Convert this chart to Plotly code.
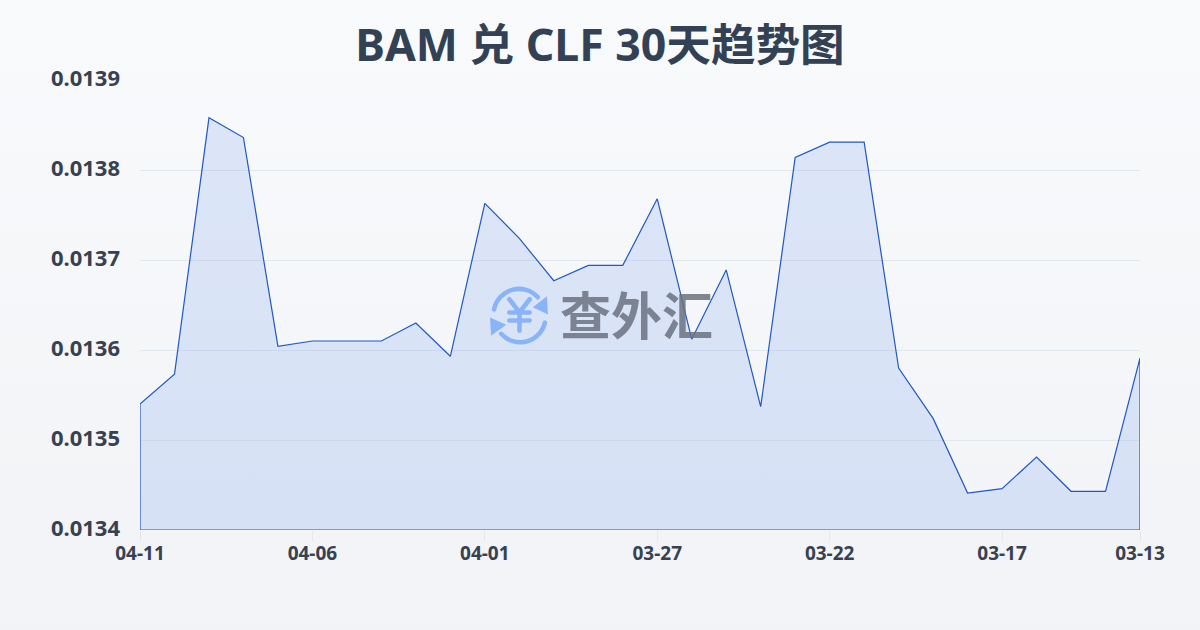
import base64
import plotly.graph_objects as go

dates = ["04-11","04-10","04-09","04-08","04-07","04-06","04-05","04-04","04-03","04-02",
         "04-01","03-31","03-30","03-29","03-28","03-27","03-26","03-25","03-24","03-23",
         "03-22","03-21","03-20","03-19","03-18","03-17","03-16","03-15","03-14","03-13"]
rates = [0.01354,0.013573,0.013858,0.013836,0.013604,0.01361,0.01361,0.01361,0.01363,0.013593,
         0.013763,0.013724,0.013677,0.013694,0.013694,0.013768,0.013612,0.013689,0.013537,0.013814,
         0.013831,0.013831,0.01358,0.013524,0.013441,0.013446,0.013481,0.013443,0.013443,0.013591]
x_ticks = ["04-11","04-06","04-01","03-27","03-22","03-17","03-13"]
y_ticks = [0.0134,0.0135,0.0136,0.0137,0.0138,0.0139]
y_floor = 0.0134
title = "BAM 兑 CLF 30天趋势图"
watermark = "查外汇"

def uri(svg):
    return "data:image/svg+xml;base64," + base64.b64encode(svg.encode()).decode()

bg = uri('<svg xmlns="http://www.w3.org/2000/svg" width="1200" height="630" preserveAspectRatio="none">'
         '<defs><linearGradient id="g" x1="0" y1="0" x2="0" y2="1"><stop offset="0" stop-color="#f8fafc"/>'
         '<stop offset="1" stop-color="#f1f3f6"/></linearGradient></defs>'
         '<rect width="1200" height="630" fill="url(#g)"/></svg>')
icon = uri('<svg xmlns="http://www.w3.org/2000/svg" width="60" height="60" viewBox="0 0 60 60">'
           '<g fill="none" stroke="#8ab4f8" stroke-width="4.5" stroke-linecap="round">'
           '<path d="M5 24 A25 25 0 0 1 48 12"/><path d="M55 37 A25 25 0 0 1 12 48"/>'
           '<path d="M20 14 L30 27 L40 14 M30 27 V45 M20 27 H40 M20 35 H40"/></g>'
           '<path d="M58 29 L57 11 L43 22 Z" fill="#8ab4f8"/><path d="M1 32 L2 50 L17 39 Z" fill="#8ab4f8"/></svg>')

fig = go.Figure(go.Scatter(
    x=dates + [dates[-1], dates[0], dates[0]],
    y=rates + [y_floor, y_floor, rates[0]],
    mode="lines", fill="toself", cliponaxis=False,
    line=dict(color="#2058c4", width=1.2),
    fillcolor="rgba(37,99,235,0.13)",
    hoverinfo="skip",
))
fig.update_layout(
    width=1200, height=630, margin=dict(l=140, r=60, t=80, b=100),
    paper_bgcolor="rgba(0,0,0,0)", plot_bgcolor="rgba(0,0,0,0)",
    showlegend=False,
    font=dict(family="Noto Sans, Noto Sans CJK SC", color="#374151"),
    title=dict(text=title, x=0.5, xanchor="center", y=0.928, yanchor="middle",
               font=dict(size=44.6, color="#334155", family="Noto Sans, Noto Sans CJK SC", weight="bold")),
    xaxis=dict(type="category", categoryorder="array", categoryarray=dates, range=[0, 29],
               tickmode="array", tickvals=x_ticks, ticktext=x_ticks,
               tickfont=dict(size=19, color="#374151", weight="bold"),
               ticks="outside", ticklen=10, tickcolor="#e5e7eb", tickwidth=1, ticklabelstandoff=-4,
               showgrid=False, zeroline=False, showline=False),
    yaxis=dict(range=[0.0134, 0.0139], tickmode="array", tickvals=y_ticks,
               ticktext=[f"{v:.4f}" for v in y_ticks],
               tickfont=dict(size=22, color="#374151", weight="bold"),
               ticks="", ticklabelstandoff=19, ticklabelshift=-2,
               gridcolor="#e2e8f0", gridwidth=1, zeroline=False, showline=False),
    images=[
        dict(source=bg, xref="paper", yref="paper", x=-140/1000, y=1+80/450, sizex=1200/1000, sizey=630/450,
             xanchor="left", yanchor="top", sizing="stretch", layer="below"),
        dict(source=icon, xref="paper", yref="paper", x=(489-140)/1000, y=1-(285-80)/450,
             sizex=61/1000, sizey=61/450, xanchor="left", yanchor="top", sizing="stretch", layer="above"),
    ],
    annotations=[dict(text=watermark, xref="paper", yref="paper", x=(636-140)/1000, y=1-(313-80)/450,
                      showarrow=False, xanchor="center", yanchor="middle", opacity=0.85,
                      font=dict(size=51, color="#6b7280", family="Noto Sans CJK SC", weight="bold"))],
)
fig.write_html("out.html", config=dict(displayModeBar=False), post_script="document.body.style.margin='0';")
